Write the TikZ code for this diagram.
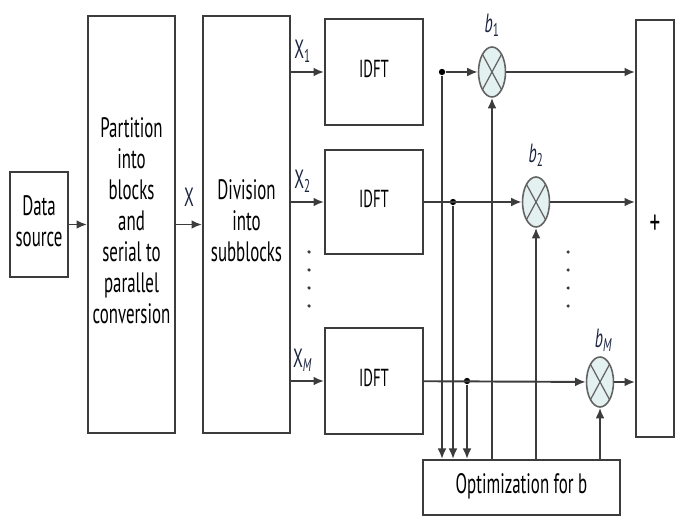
\documentclass[tikz,border=0pt]{standalone}
\usepackage{fontspec}
\setmainfont{PT Sans}
\usepackage{graphicx}
\usepackage{xcolor}
\usetikzlibrary{arrows.meta,positioning,shapes.geometric,calc}

\definecolor{wire}{HTML}{3C3C3C}
\definecolor{mulfill}{HTML}{E4F1F1}
\definecolor{labcol}{HTML}{1A2440}
\newcommand{\sqz}[1]{\scalebox{0.6}[1]{\begin{tabular}{@{}c@{}}#1\end{tabular}}}

\begin{document}
\begin{tikzpicture}[
  x=0.02cm, y=-0.02cm,
  font=\fontsize{16}{17.6}\selectfont,
  box/.style={draw=wire, line width=1.1pt, fill=white, text=black, inner sep=0pt, align=center},
  mul/.style={ellipse, draw=wire!80, line width=0.9pt, fill=mulfill, minimum width=0.54cm, minimum height=1cm, inner sep=0pt,
    path picture={\draw[wire!80, line width=0.7pt]
      (path picture bounding box.north west) -- (path picture bounding box.south east)
      (path picture bounding box.north east) -- (path picture bounding box.south west);}},
  arr/.style={-{Latex[length=6pt,width=5pt]}, wire, line width=1.1pt},
  lbl/.style={inner sep=0pt, text=labcol, font=\fontsize{15}{16}\selectfont},
  dot/.style={circle, fill=black, inner sep=0pt, minimum size=3.6pt}
]
\useasboundingbox (0,0) rectangle (675,516);

% blocks
\node[box, minimum width=1.16cm, minimum height=2.1cm] (src) at (39,224.5) {\sqz{Data\\source}};
\node[box, minimum width=1.74cm, minimum height=8.34cm] (part) at (131.5,224.5) {\sqz{Partition\\into\\blocks\\and\\serial to\\parallel\\conversion}};
\node[box, minimum width=1.74cm, minimum height=8.34cm] (div) at (246.5,224.5) {\sqz{Division\\into\\subblocks}};
\node[box, minimum width=1.96cm, minimum height=2.12cm, font=\fontsize{14}{15}\selectfont] (idft1) at (374,72) {\sqz{IDFT}};
\node[box, minimum width=1.96cm, minimum height=2.08cm, font=\fontsize{14}{15}\selectfont] (idft2) at (374,202) {\sqz{IDFT}};
\node[box, minimum width=1.96cm, minimum height=2.12cm, font=\fontsize{14}{15}\selectfont] (idftM) at (374,381) {\sqz{IDFT}};
\node[mul] (mul1) at (492,72) {};
\node[mul] (mul2) at (536,202) {};
\node[mul] (mulM) at (600,382) {};
\node[box, minimum width=0.76cm, minimum height=8.34cm] (sum) at (655,228.5) {\sqz{\fontsize{20}{20}\selectfont +}};
\node[box, minimum width=3.94cm, minimum height=1.1cm] (opt) at (521.5,487.5) {\sqz{Optimization for b}};

% weight labels
\node[lbl, above=3pt of mul1] (b1) {\sqz{\textit{b}\textsubscript{1}}};
\node[lbl, above=3pt of mul2] (b2) {\sqz{\textit{b}\textsubscript{2}}};
\node[lbl, above=0pt of mulM, xshift=2pt] (bM) {\sqz{\textit{b}\textsubscript{\itshape M}}};

% branch points
\node[dot] (tap1) at (442,72) {};
\node[dot] (tap2) at (453,202) {};
\node[dot] (tapM) at (467,381) {};

% main chain
\draw[arr] (src) -- (part);
\draw[arr] (part) -- node[lbl, above=5pt] {\sqz{X}} (div);
\draw[arr] (div.east |- idft1) -- node[lbl, above=2.5pt, pos=0.35] {\sqz{X\textsubscript{1}}} (idft1);
\draw[arr] (div.east |- idft2) -- node[lbl, above=2.5pt, pos=0.35] {\sqz{X\textsubscript{2}}} (idft2);
\draw[arr] (div.east |- idftM) -- node[lbl, above=2.5pt, pos=0.35] {\sqz{X\textsubscript{\itshape M}}} (idftM);

% to the multipliers and the sum
\draw[arr] (tap1) -- (mul1);
\draw[arr] (idft2) -- (mul2);
\draw[arr] (idftM) -- (mulM);
\draw[arr] (mul1) -- (mul1 -| sum.west);
\draw[arr] (mul2) -- (mul2 -| sum.west);
\draw[arr] (mulM) -- (mulM -| sum.west);

% optimization loop
\draw[arr] (tap1) -- (tap1 |- opt.north);
\draw[arr] (tap2) -- (tap2 |- opt.north);
\draw[arr] (tapM) -- (tapM |- opt.north);
\draw[arr] (opt.north -| mul1) -- (mul1);
\draw[arr] (opt.north -| mul2) -- (mul2);
\draw[arr] (opt.north -| mulM) -- (mulM);

% vertical dots
\foreach \y in {252,270,288,306} {
  \fill[wire] (309,\y) circle (1pt);
  \fill[wire] (568,\y) circle (1pt);
}
\end{tikzpicture}
\end{document}
